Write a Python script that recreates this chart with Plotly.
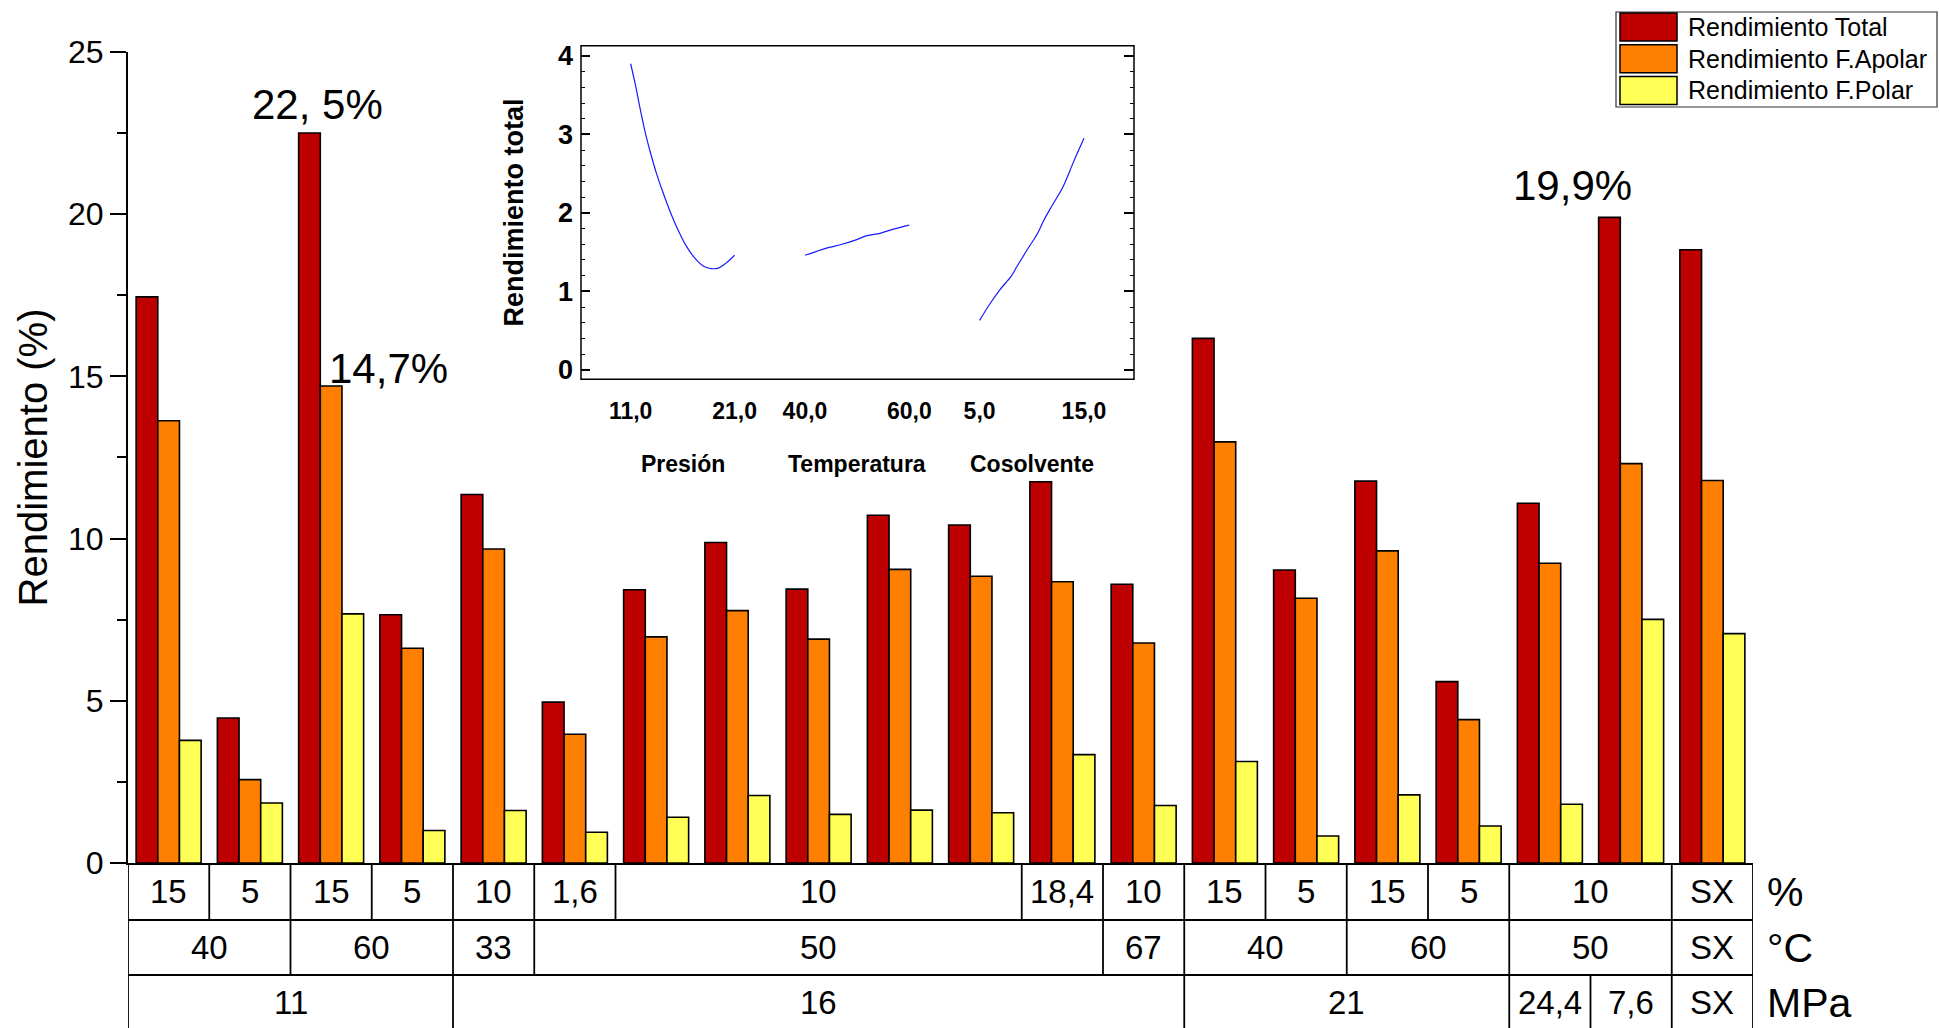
import plotly.graph_objects as go

# ---------------- data ----------------
groups = list(range(20))
rend_total = [17.45, 4.47, 22.5, 7.65, 11.36, 4.96, 8.42, 9.88, 8.44, 10.72,
              10.42, 11.75, 8.59, 16.17, 9.03, 11.77, 5.59, 11.09, 19.9, 18.9]
rend_apolar = [13.63, 2.57, 14.7, 6.62, 9.68, 3.97, 6.97, 7.78, 6.90, 9.05,
               8.84, 8.67, 6.78, 12.98, 8.16, 9.62, 4.42, 9.24, 12.31, 11.79]
rend_polar = [3.78, 1.85, 7.68, 1.00, 1.62, 0.95, 1.41, 2.08, 1.50, 1.63,
              1.55, 3.34, 1.77, 3.13, 0.83, 2.10, 1.14, 1.81, 7.51, 7.07]
series_names = ["Rendimiento Total", "Rendimiento F.Apolar", "Rendimiento F.Polar"]

# table rows: (label, first group, last group)
row_pct = [("15", 0, 0), ("5", 1, 1), ("15", 2, 2), ("5", 3, 3), ("10", 4, 4),
           ("1,6", 5, 5), ("10", 6, 10), ("18,4", 11, 11), ("10", 12, 12),
           ("15", 13, 13), ("5", 14, 14), ("15", 15, 15), ("5", 16, 16),
           ("10", 17, 18), ("SX", 19, 19)]
row_temp = [("40", 0, 1), ("60", 2, 3), ("33", 4, 4), ("50", 5, 11), ("67", 12, 12),
            ("40", 13, 14), ("60", 15, 16), ("50", 17, 18), ("SX", 19, 19)]
row_mpa = [("11", 0, 3), ("16", 4, 12), ("21", 13, 16), ("24,4", 17, 17),
           ("7,6", 18, 18), ("SX", 19, 19)]
row_units = ["%", "°C", "MPa"]

# annotations: (text, group, series index)
bar_notes = [("22, 5%", 2, 0), ("14,7%", 2, 1), ("19,9%", 18, 0)]

# inset (effects plot)
pres_x = [11.0, 11.49, 11.94, 12.43, 12.92, 13.49, 14.14, 14.88, 15.57, 16.39,
          17.20, 18.02, 18.76, 19.49, 20.18, 21.0]
pres_y = [3.90, 3.61, 3.31, 3.01, 2.76, 2.50, 2.25, 1.99, 1.78, 1.57,
          1.42, 1.32, 1.29, 1.30, 1.36, 1.46]
temp_x = [40.0, 42.26, 44.68, 47.1, 49.5, 51.9, 54.4, 56.8, 60.0]
temp_y = [1.46, 1.51, 1.56, 1.60, 1.65, 1.71, 1.74, 1.79, 1.845]
cos_x = [5.0, 5.93, 6.94, 8.02, 8.55, 9.56, 10.56, 11.17, 11.98, 12.98, 14.0, 15.0]
cos_y = [0.63, 0.83, 1.02, 1.19, 1.31, 1.53, 1.74, 1.91, 2.10, 2.33, 2.65, 2.95]
inset_ticks = [([11, 21], ["11,0", "21,0"]), ([40, 60], ["40,0", "60,0"]), ([5, 15], ["5,0", "15,0"])]
inset_y_ticks = [0, 1, 2, 3, 4]
inset_titles = ["Presión", "Temperatura", "Cosolvente"]

# ---------------- style ----------------
W, H = 1939, 1028
L, R, T, B = 128, 186, 45, 165
PW, PH = W - L - R, H - T - B
FONT = "Arial, Liberation Sans, sans-serif"
colors = ["#BF0000", "#FF8000", "#FFFF55"]
BLUE = "#1a1aff"


def px2x(px):
    return (px - L) / PW


def px2y(py):
    return (H - B - py) / PH


fig = go.Figure()
for vals, name, col in zip([rend_total, rend_apolar, rend_polar], series_names, colors):
    fig.add_trace(go.Bar(x=groups, y=vals, name=name, marker_color=col,
                         marker_line_color="black", marker_line_width=1.6,
                         showlegend=False))

# inset curves
fig.add_trace(go.Scatter(x=pres_x, y=pres_y, mode="lines", line=dict(color=BLUE, width=1.2, shape="spline"),
                         xaxis="x2", yaxis="y2", showlegend=False))
fig.add_trace(go.Scatter(x=temp_x, y=temp_y, mode="lines", line=dict(color=BLUE, width=1.2, shape="spline"),
                         xaxis="x3", yaxis="y2", showlegend=False))
fig.add_trace(go.Scatter(x=cos_x, y=cos_y, mode="lines", line=dict(color=BLUE, width=1.2, shape="spline"),
                         xaxis="x4", yaxis="y3", showlegend=False))

main_top = px2y(51.9)
inset_l, inset_r = px2x(581), px2x(1134)
inset_b, inset_t = px2y(379.3), px2y(45.7)
d1, d2 = px2x(770), px2x(944.5)

inset_xfont = dict(size=23, family=FONT)
fig.update_layout(
    width=W, height=H, margin=dict(l=L, r=R, t=T, b=B),
    paper_bgcolor="white", plot_bgcolor="white",
    barmode="group", bargap=0.2, bargroupgap=0,
    font=dict(family=FONT, color="black"),
    xaxis=dict(domain=[0, 1], range=[-0.5, 19.5], showticklabels=False, ticks="",
               showline=True, linecolor="black", linewidth=2, showgrid=False, zeroline=False),
    yaxis=dict(domain=[0, main_top], range=[0, 25], dtick=5, ticks="outside", ticklen=16,
               tickwidth=2, tickcolor="black", showline=True, linecolor="black", linewidth=2,
               showgrid=False, zeroline=False, tickfont=dict(size=32),
               minor=dict(dtick=2.5, ticks="outside", ticklen=9, tickwidth=2, tickcolor="black"),
               title=dict(text="Rendimiento (%)", font=dict(size=40), standoff=8)),
    xaxis2=dict(domain=[inset_l, d1], range=[6.22, 24.41], anchor="y2",
                tickvals=inset_ticks[0][0], ticktext=["<b>%s</b>" % t for t in inset_ticks[0][1]]),
    xaxis3=dict(domain=[d1, d2], range=[33.29, 66.75], anchor="y2",
                tickvals=inset_ticks[1][0], ticktext=["<b>%s</b>" % t for t in inset_ticks[1][1]]),
    xaxis4=dict(domain=[d2, inset_r], range=[1.64, 19.79], anchor="y2",
                tickvals=inset_ticks[2][0], ticktext=["<b>%s</b>" % t for t in inset_ticks[2][1]]),
    yaxis2=dict(domain=[inset_b, inset_t], range=[-0.12, 4.13], anchor="x2", side="left",
                tickvals=inset_y_ticks, ticktext=["<b>%d</b>" % v for v in inset_y_ticks],
                ticks="inside", ticklen=9, tickwidth=1.5, tickcolor="black",
                ticklabelstandoff=7,
                showline=False, showgrid=False, zeroline=False,
                tickfont=dict(size=27, family=FONT),
                minor=dict(dtick=0.2, ticks="inside", ticklen=4, tickwidth=1, tickcolor="black"),
                title=dict(text="<b>Rendimiento total</b>", font=dict(size=27), standoff=26)),
    yaxis3=dict(domain=[inset_b, inset_t], range=[-0.12, 4.13], anchor="x4", side="right",
                overlaying="y2", dtick=1, ticks="inside", ticklen=10, tickwidth=1.5,
                tickcolor="black", showticklabels=False, showline=False, showgrid=False,
                zeroline=False,
                minor=dict(dtick=0.2, ticks="inside", ticklen=4, tickwidth=1, tickcolor="black")),
)
for ax in ["xaxis2", "xaxis3", "xaxis4"]:
    fig.layout[ax].update(ticks="", showline=False, showgrid=False, zeroline=False,
                          tickfont=inset_xfont, ticklabelstandoff=16)

shapes = []
annots = []

# inset frame
shapes.append(dict(type="rect", xref="paper", yref="paper", x0=inset_l, x1=inset_r,
                   y0=inset_b, y1=inset_t, line=dict(color="black", width=1.5)))
# inset axis titles (centred under each factor's tick span)
for (tv, _), title, ax in zip(inset_ticks, inset_titles, ["x2", "x3", "x4"]):
    annots.append(dict(x=(tv[0] + tv[1]) / 2, xref=ax, y=px2y(464), yref="paper",
                       text="<b>%s</b>" % title, showarrow=False, font=dict(size=23),
                       xanchor="center", yanchor="middle"))

# bar value notes
series_vals = [rend_total, rend_apolar, rend_polar]
note_shift = {"22, 5%": (-14, 3), "14,7%": (57, -8), "19,9%": (-59, 6)}
for text, g, s in bar_notes:
    dx, dy = note_shift[text]
    annots.append(dict(x=g, y=series_vals[s][g], xref="x", yref="y", text=text,
                       showarrow=False, font=dict(size=42), xanchor="center",
                       yanchor="bottom", xshift=dx, yshift=dy))

# table below the axis
row_edges = [px2y(863.4), px2y(920), px2y(975), px2y(1030)]
rows = [row_pct, row_temp, row_mpa]
for r, cells in enumerate(rows):
    top, bot = row_edges[r], row_edges[r + 1]
    for label, a, b in cells:
        shapes.append(dict(type="line", xref="x", yref="paper", x0=a - 0.5, x1=a - 0.5,
                           y0=top, y1=bot, line=dict(color="black", width=1.8)))
        annots.append(dict(x=(a + b) / 2, xref="x", y=(top + bot) / 2, yref="paper",
                           text=label, showarrow=False, font=dict(size=33),
                           xanchor="center", yanchor="middle"))
    shapes.append(dict(type="line", xref="x", yref="paper", x0=19.5, x1=19.5,
                       y0=top, y1=bot, line=dict(color="black", width=1.8)))
    if r < 2:
        shapes.append(dict(type="line", xref="x", yref="paper", x0=-0.5, x1=19.5,
                           y0=bot, y1=bot, line=dict(color="black", width=1.8)))
    annots.append(dict(x=px2x(1765), xref="paper", y=(top + bot) / 2, yref="paper",
                       text=row_units[r], showarrow=False, font=dict(size=41),
                       xanchor="left", yanchor="middle"))

# legend (drawn box)
lg_l, lg_r, lg_t, lg_b = 1616, 1937, 12, 107
shapes.append(dict(type="rect", xref="paper", yref="paper", x0=px2x(lg_l), x1=px2x(lg_r),
                   y0=px2y(lg_b), y1=px2y(lg_t), line=dict(color="#333333", width=1.2),
                   fillcolor="white"))
for i, (name, col) in enumerate(zip(series_names, colors)):
    t0 = 13 + i * 31.7
    shapes.append(dict(type="rect", xref="paper", yref="paper", x0=px2x(1620), x1=px2x(1677),
                       y0=px2y(t0 + 28), y1=px2y(t0), fillcolor=col,
                       line=dict(color="black", width=1.5)))
    annots.append(dict(x=px2x(1686), xref="paper", y=px2y(t0 + 14), yref="paper",
                       text=name, showarrow=False, font=dict(size=25),
                       xanchor="left", yanchor="middle"))

fig.update_layout(shapes=shapes, annotations=annots)
fig.write_html("out.html")
